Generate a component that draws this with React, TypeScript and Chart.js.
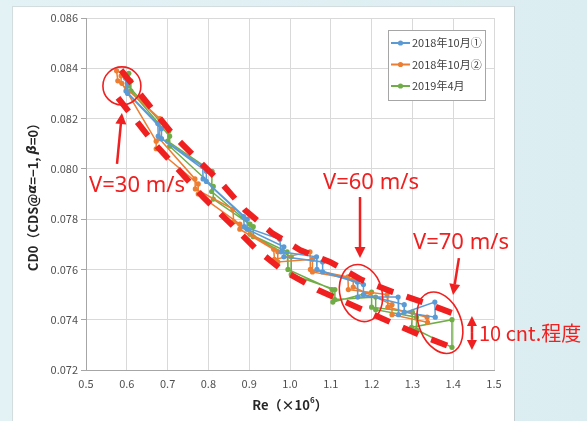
import React, { useEffect, useRef } from 'react';
import { Chart, registerables } from 'chart.js';
Chart.register(...registerables);

// ---- data ----
const seriesNames = ['2018年10月①', '2018年10月②', '2019年4月'];
const seriesColors = ['#5b9bd5', '#ed7d31', '#70ad47'];

const blueRe = [0.597, 0.598, 0.676, 0.677, 0.786, 0.787, 0.886, 0.888, 0.975, 0.978, 1.065, 1.066, 1.165, 1.166, 1.265, 1.266, 1.355, 1.356,
  1.28, 1.28, 1.18, 1.18, 1.08, 1.08, 0.985, 0.985, 0.895, 0.895, 0.795, 0.795, 0.685, 0.685, 0.602, 0.602];
const blueCd = [0.0836, 0.0831, 0.0818, 0.0813, 0.0801, 0.0796, 0.0781, 0.0777, 0.0772, 0.0767, 0.0765, 0.0760, 0.0755, 0.0749, 0.0749, 0.0742, 0.0747, 0.0741,
  0.0743, 0.0746, 0.0750, 0.0754, 0.0759, 0.0763, 0.0765, 0.0769, 0.0776, 0.0780, 0.0795, 0.0799, 0.0812, 0.0816, 0.0830, 0.0834];

const orangeRe = [0.575, 0.578, 0.681, 0.680, 0.767, 0.768, 0.860, 0.862, 0.960, 0.962, 1.049, 1.050, 1.142, 1.143, 1.238, 1.240, 1.336, 1.337,
  1.25, 1.25, 1.155, 1.155, 1.055, 1.055, 0.97, 0.97, 0.877, 0.877, 0.775, 0.775, 0.672, 0.672, 0.588, 0.586];
const orangeCd = [0.0839, 0.0835, 0.0820, 0.0812, 0.0796, 0.0792, 0.0784, 0.0779, 0.0768, 0.0764, 0.0767, 0.0760, 0.0757, 0.0752, 0.0750, 0.0745, 0.0741, 0.0739,
  0.0742, 0.0746, 0.0753, 0.0756, 0.0759, 0.0764, 0.0763, 0.0767, 0.0776, 0.0778, 0.0790, 0.0794, 0.0808, 0.0811, 0.0834, 0.0837];

const greenRe = [0.605, 0.604, 0.703, 0.700, 0.809, 0.808, 0.902, 0.902, 0.993, 0.995, 1.103, 1.105, 1.200, 1.200, 1.300, 1.298, 1.397, 1.397,
  1.31, 1.31, 1.21, 1.21, 1.11, 1.11, 1.003, 1.003, 0.91, 0.91, 0.812, 0.812, 0.705, 0.705, 0.61, 0.61];
const greenCd = [0.0838, 0.0833, 0.0815, 0.0811, 0.0799, 0.0791, 0.0778, 0.0774, 0.0767, 0.0760, 0.0752, 0.0747, 0.0751, 0.0745, 0.0743, 0.0737, 0.0740, 0.0729,
  0.0736, 0.0741, 0.0744, 0.0749, 0.0748, 0.0752, 0.0758, 0.0765, 0.0773, 0.0777, 0.0788, 0.0793, 0.0809, 0.0813, 0.0831, 0.0835];

const xMin = 0.5, xMax = 1.5, xStep = 0.1;
const yMin = 0.072, yMax = 0.086, yStep = 0.002;

// ---- annotations (data units) ----
const upperBandRe = [0.5858, 0.6642, 0.7181, 0.7745, 0.8358, 0.8897, 0.9559, 1.0245, 1.098, 1.1765, 1.2525, 1.3309, 1.4093];
const upperBandCd = [0.08393, 0.08234, 0.08127, 0.08035, 0.07936, 0.07836, 0.07745, 0.07677, 0.07630, 0.07558, 0.07510, 0.07467, 0.07419];
const lowerBandRe = [0.5784, 0.6642, 0.7230, 0.7868, 0.8578, 0.9142, 0.9804, 1.0686, 1.1520, 1.2451, 1.3186, 1.3995];
const lowerBandCd = [0.08282, 0.08107, 0.08003, 0.07888, 0.07777, 0.07685, 0.07598, 0.07518, 0.07459, 0.07391, 0.07339, 0.07288];

const speedLabels = ['V=30 m/s', 'V=60 m/s', 'V=70 m/s'];
const speedLabelRe = [0.625, 1.1985, 1.419];
const speedLabelCd = [0.07932, 0.07944, 0.07705];
const arrowFromRe = [0.576, 1.1716, 1.414];
const arrowFromCd = [0.0802, 0.07888, 0.07645];
const arrowToRe = [0.588, 1.1716, 1.3995];
const arrowToCd = [0.08222, 0.07645, 0.07498];
const circleRe = [0.588, 1.174, 1.3676];
const circleCd = [0.0833, 0.07506, 0.07388];
const spreadRe = 1.446;
const spreadCd = [0.07415, 0.07280];
const spreadLabel = '10 cnt.程度';

const RED = '#f02020';
const FONT = '"Noto Sans CJK JP", "Noto Sans", sans-serif';

function drawArrow(ctx: CanvasRenderingContext2D, x1: number, y1: number, x2: number, y2: number, head: number, lw: number) {
  const ang = Math.atan2(y2 - y1, x2 - x1);
  const bx = x2 - head * Math.cos(ang), by = y2 - head * Math.sin(ang);
  ctx.lineWidth = lw;
  ctx.beginPath();
  ctx.moveTo(x1, y1);
  ctx.lineTo(bx, by);
  ctx.stroke();
  const w = head * 0.5;
  ctx.beginPath();
  ctx.moveTo(x2, y2);
  ctx.lineTo(bx + w * Math.sin(ang), by - w * Math.cos(ang));
  ctx.lineTo(bx - w * Math.sin(ang), by + w * Math.cos(ang));
  ctx.closePath();
  ctx.fill();
}

const annotPlugin = {
  id: 'annot',
  afterDatasetsDraw(chart: any) {
    const { ctx, scales } = chart;
    const X = (v: number) => scales.x.getPixelForValue(v);
    const Y = (v: number) => scales.y.getPixelForValue(v);
    ctx.save();
    ctx.strokeStyle = RED;
    ctx.fillStyle = RED;
    ctx.lineWidth = 6;
    ctx.lineCap = 'butt';
    ctx.setLineDash([17, 14]);
    [[upperBandRe, upperBandCd], [lowerBandRe, lowerBandCd]].forEach(([rs, cs]) => {
      ctx.beginPath();
      rs.forEach((r: number, i: number) => {
        if (i === 0) ctx.moveTo(X(r), Y(cs[i])); else ctx.lineTo(X(r), Y(cs[i]));
      });
      ctx.stroke();
    });
    ctx.setLineDash([]);
    const ell = [[19, 19, 0], [21, 29, -15], [21, 32, -22]];
    ctx.lineWidth = 1.6;
    circleRe.forEach((r, i) => {
      ctx.beginPath();
      ctx.ellipse(X(r), Y(circleCd[i]), ell[i][0], ell[i][1], ell[i][2] * Math.PI / 180, 0, Math.PI * 2);
      ctx.stroke();
    });
    arrowFromRe.forEach((r, i) => {
      drawArrow(ctx, X(r), Y(arrowFromCd[i]), X(arrowToRe[i]), Y(arrowToCd[i]), 11, 2.5);
    });
    const sx = X(spreadRe), s1 = Y(spreadCd[0]), s2 = Y(spreadCd[1]);
    const mid = (s1 + s2) / 2;
    drawArrow(ctx, sx, mid, sx, s1, 10, 2.5);
    drawArrow(ctx, sx, mid, sx, s2, 10, 2.5);
    ctx.font = `22px "Noto Sans", sans-serif`;
    ctx.textAlign = 'center';
    ctx.textBaseline = 'middle';
    speedLabels.forEach((t, i) => {
      ctx.fillText(t, X(speedLabelRe[i]), Y(speedLabelCd[i]));
    });
    ctx.textAlign = 'left';
    ctx.font = `20px ${FONT}`;
    ctx.fillText(spreadLabel, sx + 7, mid);
    ctx.restore();
  },
  afterDraw(chart: any) {
    const { ctx, chartArea } = chart;
    ctx.save();
    const segs: [string, boolean][] = [['CD0（CDS@', false], ['α', true], ['=−1, ', false], ['β', true], ['=0）', false]];
    const fN = `bold 13px ${FONT}`;
    const fI = `italic bold 13px "DejaVu Sans", sans-serif`;
    let total = 0;
    segs.forEach(([t, it]) => { ctx.font = it ? fI : fN; total += ctx.measureText(t).width; });
    ctx.translate(33, (chartArea.top + chartArea.bottom) / 2);
    ctx.rotate(-Math.PI / 2);
    ctx.fillStyle = '#262626';
    ctx.textBaseline = 'middle';
    ctx.textAlign = 'left';
    let cx = -total / 2;
    segs.forEach(([t, it]) => { ctx.font = it ? fI : fN; ctx.fillText(t, cx, 0); cx += ctx.measureText(t).width; });
    ctx.setTransform(1, 0, 0, 1, 0, 0);
    const a = 'Re（×10', sup = '6', b = '）';
    ctx.font = fN;
    const wa = ctx.measureText(a).width, wb = ctx.measureText(b).width;
    ctx.font = `bold 8px ${FONT}`;
    const ws = ctx.measureText(sup).width;
    let x0 = (chartArea.left + chartArea.right) / 2 - (wa + ws + wb) / 2;
    const ty = 405;
    ctx.font = fN; ctx.fillText(a, x0, ty); x0 += wa;
    ctx.font = `bold 8px ${FONT}`; ctx.fillText(sup, x0, ty - 5); x0 += ws;
    ctx.font = fN; ctx.fillText(b, x0, ty);
    ctx.fillStyle = '#ffffff';
    ctx.fillRect(388, 30, 97, 70);
    ctx.strokeStyle = '#a6a6a6';
    ctx.lineWidth = 1;
    ctx.strokeRect(388.5, 30.5, 97, 70);
    seriesNames.forEach((n, i) => {
      const ly = 43 + i * 21.5;
      ctx.strokeStyle = seriesColors[i];
      ctx.fillStyle = seriesColors[i];
      ctx.lineWidth = 2;
      ctx.beginPath(); ctx.moveTo(391, ly); ctx.lineTo(410, ly); ctx.stroke();
      ctx.beginPath(); ctx.arc(400.5, ly, 2.6, 0, Math.PI * 2); ctx.fill();
      ctx.fillStyle = '#404040';
      ctx.font = `11px ${FONT}`;
      ctx.textBaseline = 'middle';
      ctx.fillText(n, 412, ly);
    });
    ctx.restore();
  },
};

const mk = (re: number[], cd: number[]) => re.map((r, i) => ({ x: r, y: cd[i] }));

export default function App() {
  const ref = useRef<HTMLCanvasElement | null>(null);
  useEffect(() => {
    if (!ref.current) return;
    const sets = [[blueRe, blueCd], [orangeRe, orangeCd], [greenRe, greenCd]];
    const chart = new Chart(ref.current, {
      type: 'scatter',
      data: {
        datasets: sets.map(([re, cd], i) => ({
          label: seriesNames[i],
          data: mk(re, cd),
          showLine: true,
          borderColor: seriesColors[i],
          backgroundColor: seriesColors[i],
          borderWidth: 1.5,
          pointRadius: 2.6,
          pointBorderWidth: 0,
          pointBackgroundColor: seriesColors[i],
        })),
      },
      options: {
        animation: false,
        responsive: false,
        devicePixelRatio: 1,
        layout: { padding: { left: 0, top: 18, right: 93, bottom: 0 } },
        plugins: { legend: { display: false }, tooltip: { enabled: false } },
        scales: {
          x: {
            type: 'linear', min: xMin, max: xMax,
            afterFit: (s: any) => { s.height = 51; },
            ticks: { stepSize: xStep, padding: 7, color: '#505050', font: { size: 11, family: FONT }, callback: (v: any) => Number(v).toFixed(1) },
            grid: { color: '#d9d9d9', drawTicks: false },
            border: { color: '#a6a6a6' },
          },
          y: {
            type: 'linear', min: yMin, max: yMax,
            afterFit: (s: any) => { s.width = 86; },
            ticks: { stepSize: yStep, padding: 3, color: '#505050', font: { size: 11, family: FONT }, callback: (v: any) => Number(v).toFixed(3) },
            grid: { color: '#d9d9d9', tickLength: 5, tickColor: '#a6a6a6' },
            border: { color: '#a6a6a6' },
          },
        },
      },
      plugins: [annotPlugin],
    });
    return () => chart.destroy();
  }, []);
  return (
    <div style={{ position: 'fixed', left: 0, top: 0, width: 587, height: 421, background: 'linear-gradient(90deg, #e3f2f5, #dcedf1)' }}>
      <div style={{ position: 'absolute', left: 12, top: 6, width: 501, height: 415, background: '#ffffff', borderLeft: '1px solid #d3dcdf', borderTop: '1px solid #d3dcdf', borderRight: '1px solid #c4cdd0' }} />
      <canvas ref={ref} width={587} height={421} style={{ position: 'absolute', left: 0, top: 0 }} />
    </div>
  );
}
